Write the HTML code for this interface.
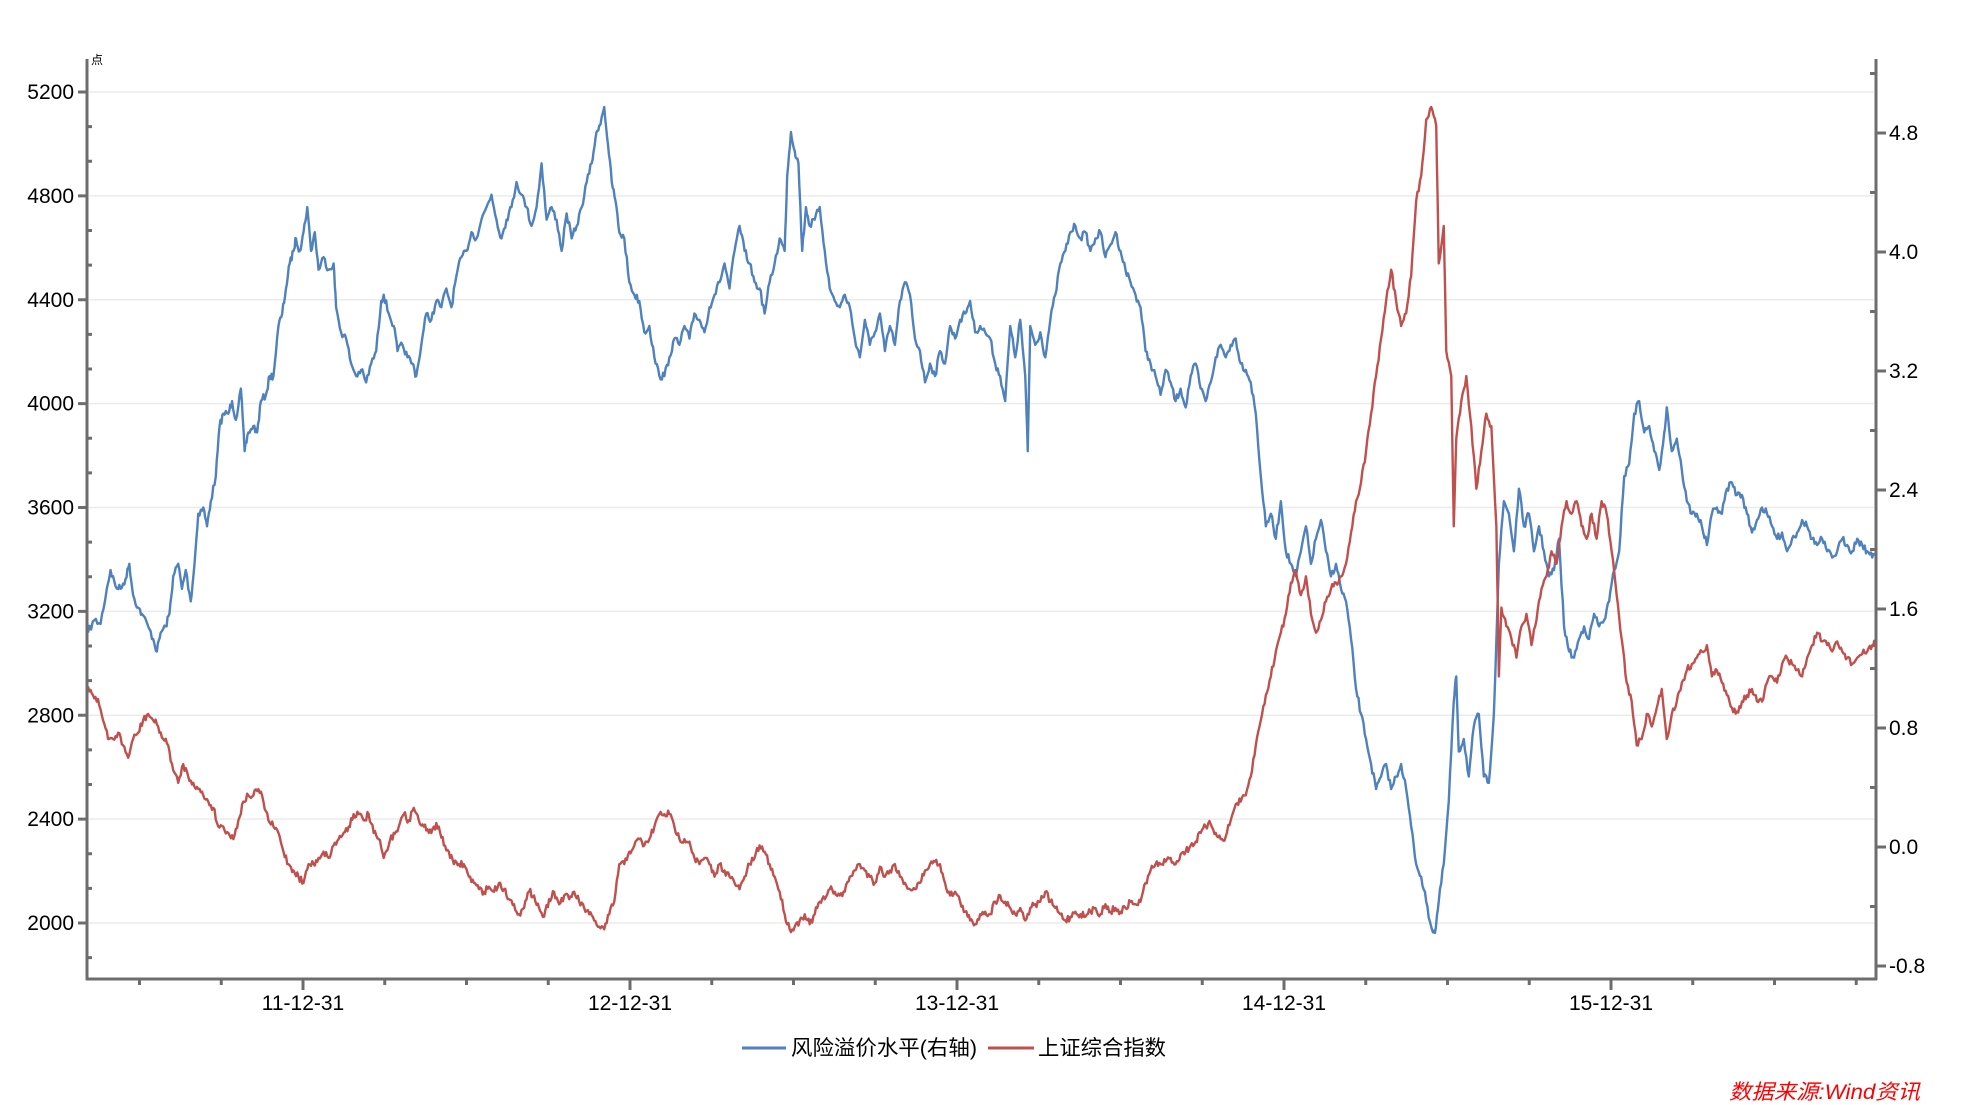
<!DOCTYPE html>
<html><head><meta charset="utf-8"><style>
html,body{margin:0;padding:0;background:#fff;}
svg{display:block;}
text{font-family:"Liberation Sans","Noto Sans CJK SC",sans-serif;}
</style></head><body>
<svg width="1963" height="1105" viewBox="0 0 1963 1105" xmlns="http://www.w3.org/2000/svg">
<g id="grid" stroke="#ebebeb" stroke-width="1.5"></g>
<g transform="translate(88,92) scale(1.253,1.2515) translate(-70,-73)" fill="none" stroke-width="2.4" stroke-linejoin="round">
<polyline id="blue" vector-effect="non-scaling-stroke" stroke="#4f81bd" points="70,505 75,495 80,498 85,470 88,455 92,468 96,470 100,462 103,450 106,475 110,485 113,490 118,500 122,510 125,520 128,505 132,500 135,490 138,460 142,450 145,470 148,455 152,480 155,450 158,410 162,405 165,420 168,400 172,380 175,340 178,330 182,330 185,320 188,335 192,310 195,360 198,345 202,340 205,345 208,320 212,315 215,300 218,300 222,260 225,250 228,230 231,210 234,200 236,190 239,200 242,185 245,165 248,200 251,185 254,215 258,205 262,215 266,210 268,245 272,265 276,270 280,290 284,300 288,295 292,305 296,290 300,280 304,240 306,235 310,250 314,260 317,280 321,275 325,285 329,290 332,300 336,275 340,250 344,255 348,240 352,245 356,230 360,245 364,220 368,205 372,200 376,185 380,190 384,175 388,165 392,155 396,175 400,190 404,175 408,165 412,145 416,155 420,165 424,180 428,165 432,130 436,175 440,165 444,175 448,200 452,170 456,190 460,180 464,165 468,145 472,130 475,110 478,100 482,85 485,115 488,145 491,160 494,185 498,190 502,225 506,235 510,240 514,265 518,260 522,285 526,300 530,300 534,285 538,270 542,275 546,260 550,270 554,250 558,255 562,265 566,245 570,235 574,225 578,210 582,230 586,200 590,180 594,200 598,210 602,225 606,230 610,250 614,225 618,210 622,190 626,200 628,140 631,105 634,120 637,130 640,200 643,165 646,180 650,175 654,165 658,200 662,230 666,240 670,245 674,235 678,245 682,270 686,285 690,255 694,275 698,265 702,250 706,280 710,260 714,275 718,240 722,225 726,235 730,270 734,280 738,305 742,290 746,300 750,280 754,290 758,260 762,270 766,255 770,250 774,240 778,265 782,260 786,265 790,270 794,290 798,300 802,320 806,260 810,285 814,255 818,300 820,360 822,260 826,275 830,265 834,285 838,255 842,235 846,210 850,200 854,185 858,180 862,190 866,185 870,200 874,190 878,185 882,205 886,195 890,185 894,200 898,215 902,225 906,235 910,245 914,280 918,290 922,300 926,315 930,295 934,305 938,320 942,310 946,325 950,300 954,290 958,310 962,320 966,305 970,285 974,275 978,285 982,275 986,270 990,290 994,295 998,305 1002,330 1006,380 1010,420 1014,410 1018,430 1022,400 1026,440 1030,450 1034,460 1038,440 1042,420 1046,450 1050,430 1054,415 1058,440 1062,460 1066,450 1070,470 1074,480 1078,510 1082,550 1086,570 1090,590 1094,610 1098,630 1102,620 1106,610 1110,630 1114,620 1118,610 1122,630 1126,660 1130,690 1134,700 1138,720 1142,740 1145,745 1148,720 1152,690 1156,640 1160,560 1162,540 1164,600 1168,590 1172,620 1176,580 1180,570 1184,620 1188,625 1192,570 1196,450 1200,400 1204,410 1208,440 1212,390 1216,420 1220,410 1224,440 1228,420 1232,440 1236,460 1240,455 1244,430 1248,500 1252,520 1256,525 1260,510 1264,500 1268,510 1272,490 1276,500 1280,495 1284,480 1288,455 1292,440 1296,380 1300,370 1304,330 1308,320 1312,345 1316,340 1320,360 1324,375 1328,345 1330,325 1334,360 1338,350 1342,375 1346,400 1350,410 1354,410 1358,420 1362,435 1366,410 1370,405 1374,410 1378,390 1382,385 1386,395 1390,395 1394,410 1398,425 1402,415 1406,405 1410,410 1414,420 1418,430 1422,425 1426,440 1430,430 1434,425 1438,415 1442,420 1446,430 1450,435 1454,430 1458,440 1462,445 1466,440 1470,430 1474,435 1478,440 1482,430 1486,435 1490,440 1494,445 1497,440"/>
<polyline id="red" vector-effect="non-scaling-stroke" stroke="#c0504d" points="70,548 74,555 78,558 82,575 86,590 90,590 94,585 98,595 102,605 106,590 110,585 114,575 118,570 122,575 126,580 130,590 134,595 138,615 142,625 146,610 150,620 154,625 158,630 162,635 166,640 170,645 174,660 178,660 182,665 186,670 190,655 194,640 198,635 202,635 206,630 210,640 214,655 218,660 222,665 226,680 230,690 234,695 238,700 242,705 246,690 250,690 254,685 258,680 262,685 266,675 270,670 274,665 278,660 282,650 286,650 290,655 294,650 298,665 302,670 306,685 310,675 314,665 318,660 322,650 326,655 330,645 334,655 338,660 342,665 346,660 350,660 354,675 358,680 362,690 366,690 370,690 374,700 378,705 382,710 386,712 390,708 394,712 398,705 402,710 406,718 410,722 414,730 418,725 422,712 426,715 430,725 434,732 438,718 442,712 446,722 450,715 454,718 458,712 462,720 466,725 470,730 474,735 478,740 482,742 486,730 490,720 494,690 498,690 502,680 506,675 510,670 514,675 518,670 522,660 526,650 530,650 534,650 538,660 542,670 546,670 550,672 554,685 558,690 562,685 566,690 570,700 574,690 578,695 582,700 586,705 590,710 594,700 598,690 602,685 606,675 610,680 614,690 618,700 622,712 626,730 630,742 634,740 638,735 642,730 646,738 650,730 654,720 658,718 662,710 666,712 670,715 674,712 678,700 682,695 686,690 690,695 694,700 698,705 702,692 706,700 710,695 714,690 718,700 722,705 726,710 730,710 734,705 738,695 742,690 746,688 750,690 754,705 758,715 762,712 766,720 770,728 774,735 778,738 782,730 786,728 790,730 794,720 798,715 802,720 806,725 810,730 814,725 818,735 822,725 826,722 830,720 834,712 838,720 842,725 846,730 850,735 854,732 858,728 862,730 866,732 870,728 874,725 878,730 882,722 886,728 890,725 894,728 898,725 902,720 906,722 910,720 914,705 918,695 922,690 926,690 930,688 934,685 938,690 942,682 946,680 950,675 954,672 958,665 962,660 966,658 970,665 974,670 978,668 982,655 986,642 990,640 994,635 998,620 1002,595 1006,575 1010,555 1014,540 1018,520 1022,505 1026,490 1030,465 1034,455 1038,475 1042,460 1046,490 1050,505 1054,495 1058,480 1062,470 1066,465 1070,460 1074,450 1078,425 1082,400 1086,385 1090,360 1094,330 1098,300 1102,270 1106,240 1110,215 1114,240 1118,260 1122,250 1126,220 1130,160 1134,140 1138,95 1142,85 1146,100 1148,210 1152,180 1154,280 1158,300 1160,420 1162,350 1166,320 1170,300 1174,340 1178,390 1182,360 1186,330 1190,340 1194,420 1196,540 1198,485 1202,500 1206,510 1210,525 1214,500 1218,490 1222,515 1226,495 1230,470 1234,460 1238,440 1242,450 1246,420 1250,400 1254,410 1258,400 1262,420 1266,430 1270,410 1274,430 1278,400 1282,410 1286,440 1290,475 1294,510 1298,545 1302,560 1306,595 1310,590 1314,570 1318,580 1322,565 1326,550 1330,590 1334,570 1338,560 1342,545 1346,535 1350,530 1354,525 1358,520 1362,515 1366,540 1370,535 1374,545 1378,555 1382,565 1386,568 1390,560 1394,555 1398,550 1402,560 1406,560 1410,545 1414,540 1418,545 1422,530 1426,525 1430,530 1434,535 1438,540 1442,525 1446,515 1450,505 1454,512 1458,515 1462,520 1466,512 1470,520 1474,525 1478,530 1482,525 1486,522 1490,520 1494,515 1497,512"/>
</g>
<g id="axes" stroke="#6d6d6d" stroke-width="3" fill="none">
<line x1="87" y1="59" x2="87" y2="980"/>
<line x1="1876" y1="59" x2="1876" y2="980"/>
<line x1="86" y1="979" x2="1877" y2="979"/>
</g>
<g id="ticks" stroke="#6d6d6d" stroke-width="3"></g>
<g id="labels" font-size="21" fill="#000"></g>
<text x="91" y="64" font-size="12" fill="#000">点</text>
<line x1="742" y1="1048" x2="786" y2="1048" stroke="#4f81bd" stroke-width="3"/>
<text x="791" y="1055" font-size="21" fill="#000" textLength="186" lengthAdjust="spacingAndGlyphs">风险溢价水平(右轴)</text>
<line x1="988" y1="1048" x2="1034" y2="1048" stroke="#c0504d" stroke-width="3"/>
<text x="1038" y="1055" font-size="21" fill="#000" textLength="128" lengthAdjust="spacingAndGlyphs">上证综合指数</text>
<text x="1729" y="1099" font-size="21" font-style="italic" fill="#ff0000" textLength="191" lengthAdjust="spacingAndGlyphs">数据来源:Wind资讯</text>
</svg>
<script>
var NS="http://www.w3.org/2000/svg";
function el(p,t,a,txt){var e=document.createElementNS(NS,t);for(var k in a)e.setAttribute(k,a[k]);if(txt)e.textContent=txt;document.getElementById(p).appendChild(e);}
// add texture jitter
var seed=7;function rnd(){seed=(seed*16807)%2147483647;return seed/2147483647;}
["blue","red"].forEach(function(id){var pl=document.getElementById(id);var pts=pl.getAttribute("points").trim().split(/\s+/).map(function(s){return s.split(",").map(Number);});
var out=[];for(var i=0;i<pts.length-1;i++){var a=pts[i],b=pts[i+1];for(var j=0;j<4;j++){var t=j/4;var y=a[1]+(b[1]-a[1])*t+(j?(rnd()-0.5)*6:0);out.push((a[0]+(b[0]-a[0])*t).toFixed(2)+","+y.toFixed(2));}}
out.push(pts[pts.length-1].join(","));pl.setAttribute("points",out.join(" "));});
var per=(923-92)/8;
for(var i=0;i<=8;i++){var y=92+i*per;el("grid","line",{x1:89,y1:y,x2:1874,y2:y});
 el("ticks","line",{x1:78,y1:y,x2:87,y2:y});
 el("labels","text",{x:74,y:y+7,"text-anchor":"end"},String(5200-400*i));}
for(var y=92-per/3;y<979;y+=per/3){ if(Math.abs(((y-92)/per)-Math.round((y-92)/per))<0.01) continue; if(y<60)continue; el("ticks","line",{x1:87,y1:y,x2:92,y2:y});}
var rp=(966-133)/7;
var rl=["4.8","4.0","3.2","2.4","1.6","0.8","0.0","-0.8"];
for(var i=0;i<8;i++){var y=133+i*rp;el("ticks","line",{x1:1876,y1:y,x2:1886,y2:y});el("labels","text",{x:1889,y:y+7},rl[i]);}
for(var i=-1;i<8;i++){var y=133+i*rp+rp/2;if(y<60||y>978)continue;el("ticks","line",{x1:1870,y1:y,x2:1876,y2:y});}
var yr=["11-12-31","12-12-31","13-12-31","14-12-31","15-12-31"];
var q=327/4;
for(var k=-2;k<=21;k++){var x=303+k*q;if(x<89||x>1875)continue;var maj=(k%4===0);
 el("ticks","line",{x1:x,y1:979,x2:x,y2:maj?990:985});
 if(maj&&k/4<5&&k>=0)el("labels","text",{x:x,y:1010,"text-anchor":"middle"},yr[k/4]);}
</script>
</body></html>
